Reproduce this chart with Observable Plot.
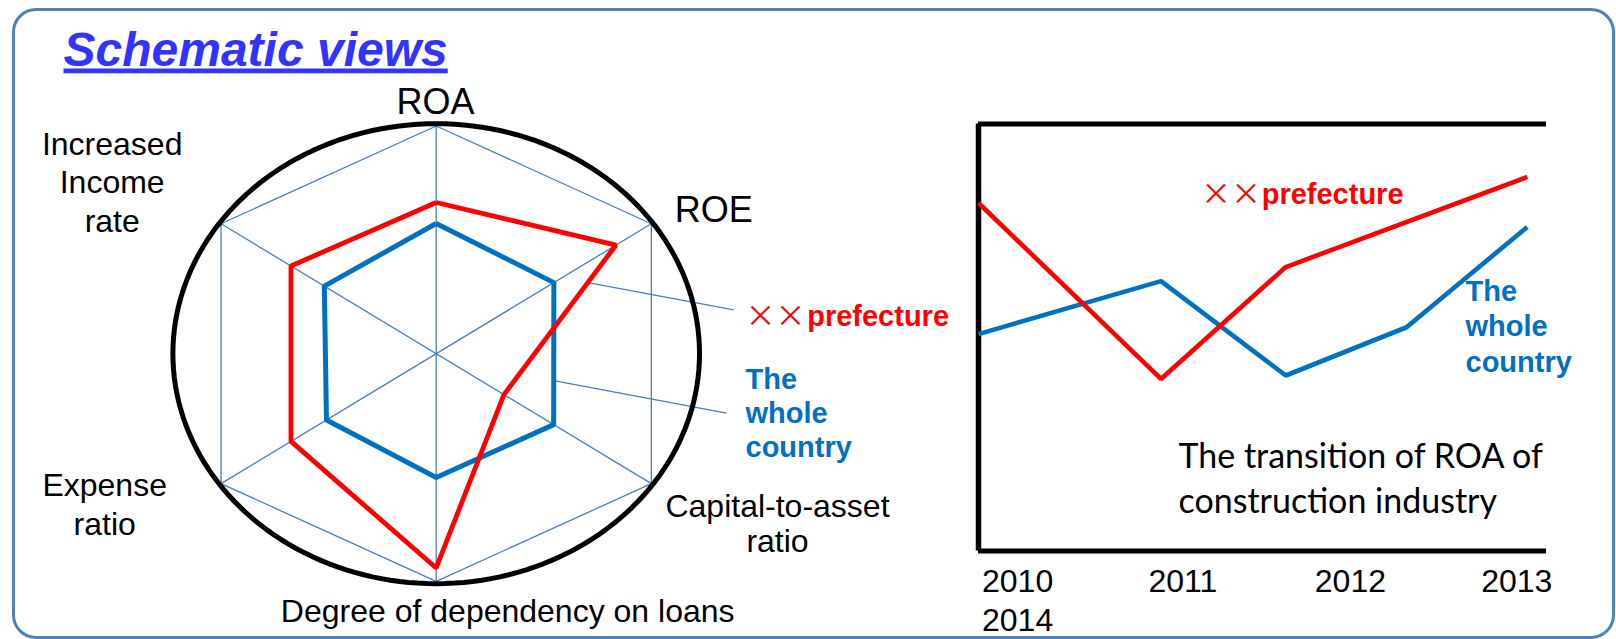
<!DOCTYPE html>
<html>
<head>
<meta charset="utf-8">
<script src="https://cdn.jsdelivr.net/npm/d3@7"></script>
<script src="https://cdn.jsdelivr.net/npm/@observablehq/plot@0.6"></script>
<style>
  html, body { margin: 0; padding: 0; background: #fff; }
  #page { position: relative; width: 1616px; height: 639px; overflow: hidden; background: #fff; }
  #page svg { position: absolute; left: 0; top: 0; }
  #frame { position: absolute; left: 11.8px; top: 7.5px; width: 1603px; height: 631px;
           border: 3px solid #4F81BD; border-radius: 24px; box-sizing: border-box; }
</style>
</head>
<body>
<div id="page"><div id="frame"></div></div>
<script>
// ---------------- data ----------------
const radarAxes = ["ROA", "ROE", "Capital-to-asset\nratio", "Degree of dependency on loans", "Expense\nratio", "Increased\nIncome\nrate"];
const radarPrefecture = [0.664, 0.835, 0.315, 0.941, 0.675, 0.675];
const radarCountry = [0.572, 0.547, 0.546, 0.544, 0.51, 0.52];
const seriesNames = ["××prefecture", "The\nwhole\ncountry"];
const periods = [2010, 2011.33, 2012.24, 2013.12, 2014];
const tickLabels = ["2010", "2011", "2012", "2013", "2014"];
const roaPrefecture = [8.15, 4.03, 6.65, null, 8.76];
const roaCountry = [5.08, 6.32, 4.11, 5.24, 7.59];
const chartTitle = "The transition of ROA of\nconstruction industry";
const pageTitle = "Schematic views";

// ---------------- styles ----------------
const W = 1616, H = 639;
const RED = "#FF0000", BLUE = "#0070C0", GRID = "#4A7EBB";
const SANS = "Liberation Sans, Arial, Helvetica, sans-serif";
const page = document.getElementById("page");

// ---------------- radar geometry ----------------
const CX = 435.7, CY = 353.2, KX = 262, KY = 227.7, ALPHA = 34.8;
const angles = [90, ALPHA, -ALPHA, -90, 180 + ALPHA, 180 - ALPHA];
const dir = angles.map(a => [Math.cos(a * Math.PI / 180), Math.sin(a * Math.PI / 180)]);
const pt = (i, r) => ({x: r * dir[i][0], y: r * dir[i][1]});
const polygon = vals => { const p = vals.map((v, i) => pt(i, v)); p.push(p[0]); return p; };
const toU = (px, py) => ({x: (px - CX) / KX, y: (CY - py) / KY});
const lerp = (a, b, t) => ({x: a.x + (b.x - a.x) * t, y: a.y + (b.y - a.y) * t});

const outer = polygon(radarAxes.map(() => 1));
const spokes = [0, 1, 2].flatMap(i => [{...pt(i, 1), k: i}, {...pt(i + 3, 1), k: i}]);
const ellipse = d3.range(0, 361, 2).map(a => ({x: 1.005 * Math.cos(a * Math.PI / 180), y: 1.01 * Math.sin(a * Math.PI / 180)}));
const prefPts = polygon(radarPrefecture);
const ctryPts = polygon(radarCountry);
const leaders = [
  {a: lerp(prefPts[1], prefPts[2], 0.25), b: toU(733.3, 309.3)},
  {a: lerp(ctryPts[1], ctryPts[2], 0.69), b: toU(726, 412.7)}
];

const radar = Plot.plot({
  width: W, height: H, margin: 0, axis: null,
  x: {domain: [-CX / KX, (W - CX) / KX]},
  y: {domain: [-(H - CY) / KY, CY / KY]},
  style: {background: "transparent"},
  marks: [
    Plot.line(outer, {x: "x", y: "y", stroke: GRID, strokeWidth: 1.3}),
    Plot.line(spokes, {x: "x", y: "y", z: "k", stroke: GRID, strokeWidth: 1.3}),
    Plot.link(leaders, {x1: d => d.a.x, y1: d => d.a.y, x2: d => d.b.x, y2: d => d.b.y, stroke: GRID, strokeWidth: 1.3}),
    Plot.line(ellipse, {x: "x", y: "y", stroke: "black", strokeWidth: 5}),
    Plot.line(ctryPts, {x: "x", y: "y", stroke: BLUE, strokeWidth: 5, strokeLinejoin: "miter", strokeLinecap: "butt"}),
    Plot.line(prefPts, {x: "x", y: "y", stroke: RED, strokeWidth: 4.8, strokeLinejoin: "miter", strokeLinecap: "butt"})
  ]
});
page.appendChild(radar);

// ---------------- line chart ----------------
const rows = periods.flatMap((t, i) => [
  {t, v: roaCountry[i], s: "country"},
  {t, v: roaPrefecture[i], s: "prefecture"}
]).filter(d => d.v != null);

const chart = Plot.plot({
  width: 640, height: 480,
  marginLeft: 38, marginRight: 34, marginTop: 23.5, marginBottom: 29.5,
  axis: null,
  x: {domain: [2010, 2014.14]},
  y: {domain: [0, 10]},
  style: {background: "transparent", left: "940px", top: "100px"},
  marks: [
    Plot.ruleY([0, 10], {stroke: "black", strokeWidth: 5}),
    Plot.ruleX([2010], {stroke: "black", strokeWidth: 5.5}),
    Plot.line(rows.filter(d => d.s === "country"), {x: "t", y: "v", stroke: BLUE, strokeWidth: 4.6, strokeLinejoin: "miter", strokeLinecap: "butt"}),
    Plot.line(rows.filter(d => d.s === "prefecture"), {x: "t", y: "v", stroke: RED, strokeWidth: 4.6, strokeLinejoin: "miter", strokeLinecap: "butt"})
  ]
});
page.appendChild(chart);

// ---------------- text layer ----------------
const axisLabelLayout = [
  {x: 435, y: 113.3, size: 36, lh: 1.2},
  {x: 713.3, y: 221.7, size: 36, lh: 1.2},
  {x: 777, y: 551.7, size: 32, lh: 1.094},
  {x: 507.2, y: 621.7, size: 32, lh: 1.2},
  {x: 104.2, y: 534, size: 32, lh: 1.19},
  {x: 111.7, y: 231, size: 32, lh: 1.2}
];
const txt = (text, x, y, o) => Plot.text([{text, x, y}], {x: "x", y: "y", text: "text", lineAnchor: "bottom", fontFamily: SANS, fill: "black", ...o});

const [prefName, ctryName] = seriesNames;
const marks = [
  txt(pageTitle, 63, 65, {textAnchor: "start", fontSize: 48, fontWeight: "bold", fontStyle: "italic", fill: "#3333FF"}),
  ...radarAxes.map((a, i) => txt(a, axisLabelLayout[i].x, axisLabelLayout[i].y, {fontSize: axisLabelLayout[i].size, lineHeight: axisLabelLayout[i].lh})),
  // radar legend
  txt(prefName.slice(0, 2), 745, 325, {textAnchor: "start", fontSize: 30, fontFamily: "Noto Sans CJK JP", fill: RED}),
  txt(prefName.slice(2), 806.7, 325, {textAnchor: "start", fontSize: 29, fontWeight: "bold", fill: RED}),
  txt(ctryName, 745, 456.7, {textAnchor: "start", fontSize: 29, fontWeight: "bold", fill: BLUE, lineHeight: 1.18}),
  // line chart annotations
  txt(prefName.slice(0, 2), 1200.5, 203, {textAnchor: "start", fontSize: 30, fontFamily: "Noto Sans CJK JP", fill: RED}),
  txt(prefName.slice(2), 1261.2, 203, {textAnchor: "start", fontSize: 29, fontWeight: "bold", fill: RED}),
  txt(ctryName, 1465, 371, {textAnchor: "start", fontSize: 29, fontWeight: "bold", fill: BLUE, lineHeight: 1.21}),
  txt(chartTitle, 1178, 512.5, {textAnchor: "start", fontSize: 34, fontFamily: "Lato, sans-serif", lineHeight: 1.32}),
  Plot.text(tickLabels.map((t, i) => ({t, x: 981.5 + (i % 4) * 166.4, y: 591.7 + Math.floor(i / 4) * 38.3})),
    {x: "x", y: "y", text: "t", textAnchor: "start", lineAnchor: "bottom", fontSize: 32, fontFamily: SANS, fill: "black"})
];

const textLayer = Plot.plot({
  width: W, height: H, margin: 0, axis: null,
  x: {domain: [0, W], range: [0, W]},
  y: {domain: [0, H], range: [0, H]},
  style: {background: "transparent"},
  marks
});
d3.select(textLayer).selectAll("text").filter(function () { return this.textContent === pageTitle; })
  .style("text-decoration", "underline");
page.appendChild(textLayer);
</script>
</body>
</html>
